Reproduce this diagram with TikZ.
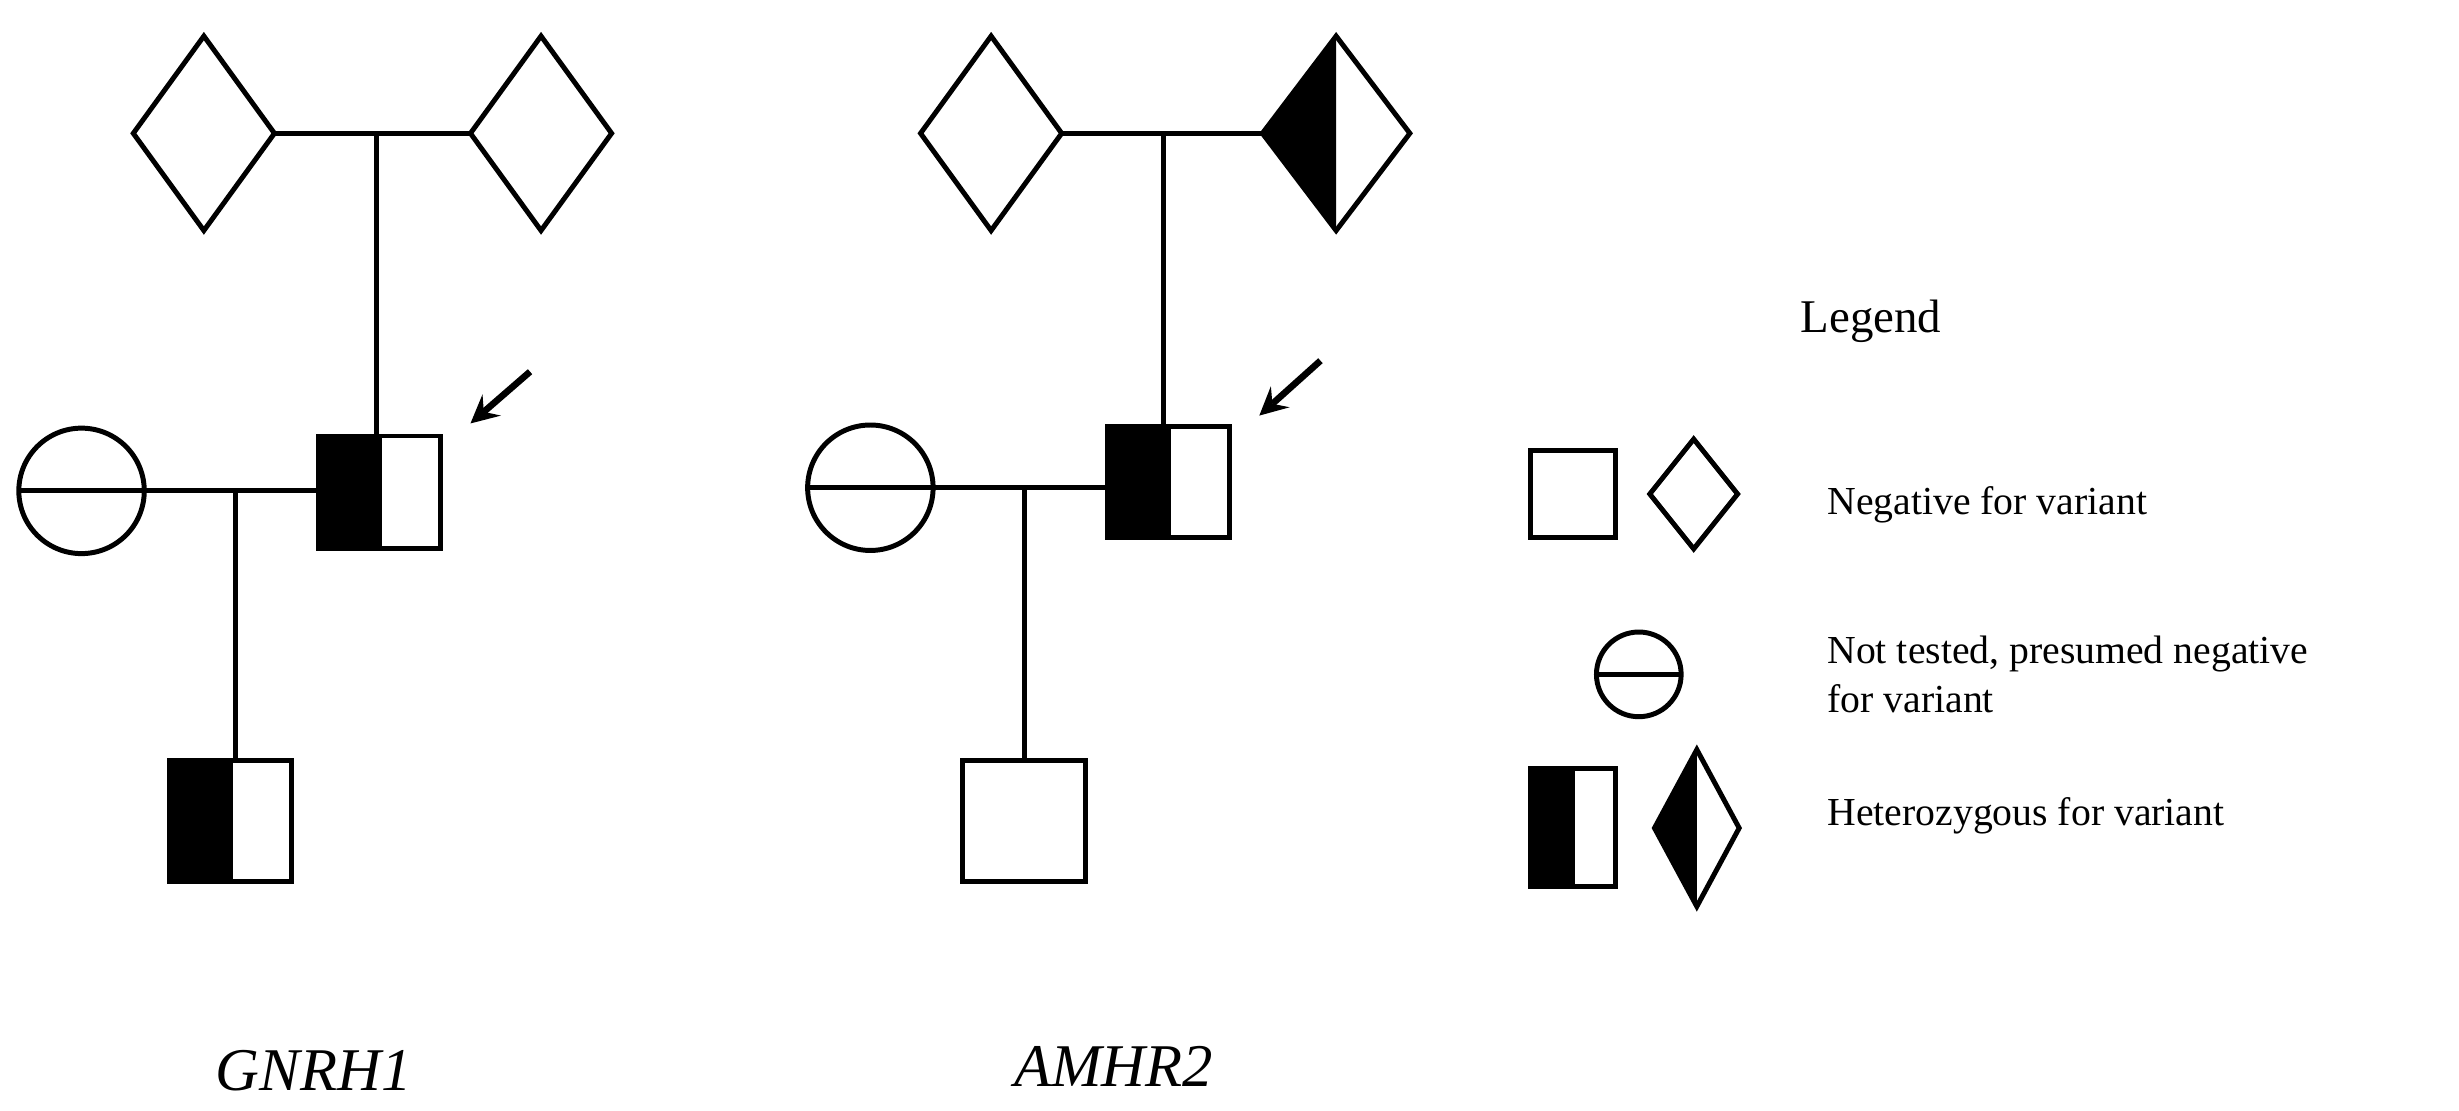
\documentclass[tikz,border=0pt]{standalone}
\usepackage{fontspec}
\setmainfont{Liberation Serif}
\newcommand{\pdia}[5]{%
  \coordinate (#5) at (#1,#2);%
  \coordinate (#5-w) at (#1-#3,#2);%
  \coordinate (#5-e) at (#1+#3,#2);%
  \draw (#1,#2-#4) -- (#1+#3,#2) -- (#1,#2+#4) -- (#1-#3,#2) -- cycle;}
\newcommand{\phalfdia}[5]{%
  \fill (#1,#2-#4) -- (#1-#3,#2) -- (#1,#2+#4) -- cycle;%
  \pdia{#1}{#2}{#3}{#4}{#5}}
\newcommand{\psq}[5]{%
  \coordinate (#5) at ({(#1+#3)/2},{(#2+#4)/2});%
  \draw (#1,#2) rectangle (#3,#4);}
\newcommand{\phalfsq}[5]{%
  \fill (#1,#2) rectangle ({(#1+#3)/2},#4);%
  \draw ({(#1+#3)/2},#2) -- ({(#1+#3)/2},#4);%
  \psq{#1}{#2}{#3}{#4}{#5}}
\newcommand{\pntc}[4]{%
  \coordinate (#4) at (#1,#2);%
  \draw (#1,#2) circle [radius=#3];%
  \draw (#1-#3,#2) -- (#1+#3,#2);}
\begin{document}
\begin{tikzpicture}[x=0.01cm,y=-0.01cm,line width=0.9pt,
  lbl/.style={font=\fontsize{7.2}{9}\selectfont,anchor=west,align=left},
  gl/.style={font=\fontsize{11}{13}\selectfont\itshape}]
% GNRH1
\pdia{130}{85}{45}{62}{ga}
\pdia{345}{85}{45}{62}{gb}
\draw (ga-e) -- (gb-w);
\phalfsq{203}{278}{281}{350}{gs}
\draw (240,85) -- (240,278);
\pntc{52}{313}{40}{gc}
\draw (92,313) -- (203,313);
\draw (150,313) -- (150,485);
\phalfsq{108}{485}{186}{562}{gk}
\draw[-stealth,line width=1.2pt] (338,237) -- (300,270);
\node[gl] (g1) at (200,683) {GNRH1};
% AMHR2
\pdia{632}{85}{45}{62}{aa}
\phalfdia{852}{85}{47}{62}{ab}
\draw (aa-e) -- (ab-w);
\phalfsq{706}{272}{784}{343}{as}
\draw (742,85) -- (742,272);
\pntc{555}{311}{40}{ac}
\draw (595,311) -- (706,311);
\draw (653,311) -- (653,485);
\psq{614}{485}{692}{562}{ak}
\draw[-stealth,line width=1.2pt] (842,230) -- (803,265);
\node[gl] (g2) at (710,680) {AMHR2};
% legend
\node[font=\fontsize{8.5}{10}\selectfont] (lg) at (1193,205) {Legend};
\psq{976}{287}{1030}{343}{l1}
\pdia{1080}{315}{28}{35}{l2}
\node[lbl] (t1) at (1152,322) {Negative for variant};
\pntc{1045}{430}{27}{l3}
\node[lbl] (t2) at (1152,430) {Not tested, presumed negative\\for variant};
\phalfsq{976}{490}{1030}{565}{l4}
\phalfdia{1082}{528}{27}{50}{l5}
\node[lbl] (t3) at (1152,520) {Heterozygous for variant};
\pgfresetboundingbox
\useasboundingbox (0,0) rectangle (1568,708);
\end{tikzpicture}
\end{document}
